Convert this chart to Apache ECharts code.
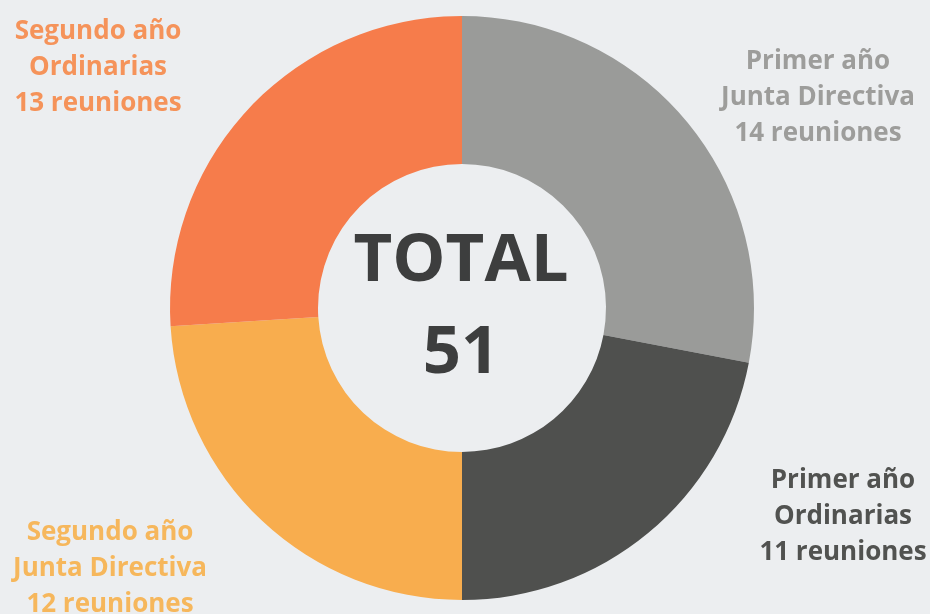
<!DOCTYPE html>
<html>
<head>
<meta charset="utf-8">
<script src="https://cdn.jsdelivr.net/npm/echarts@6/dist/echarts.min.js"></script>
<style>
  html, body { margin: 0; padding: 0; background: #eceef0; }
  #chart { width: 930px; height: 614px; }
</style>
</head>
<body>
<div id="chart"></div>
<script>
// datos de reuniones
const years = ['Primer año', 'Primer año', 'Segundo año', 'Segundo año'];
const kinds = ['Junta Directiva', 'Ordinarias', 'Junta Directiva', 'Ordinarias'];
const meetings = [14, 11, 12, 13];
const totalLabel = ['TOTAL', '51'];

const colors = ['#9a9b99', '#4f504e', '#f8ad4e', '#f67c4b'];
const labelColors = ['#9d9d9b', '#515250', '#f6b75c', '#f5935a'];
// posiciones de las etiquetas (centro del bloque)
const labelPos = [[818, 98], [843, 517], [110, 569], [98, 68]];

const chart = echarts.init(document.getElementById('chart'));

const labels = meetings.map((v, i) => ({
  type: 'text',
  x: labelPos[i][0],
  y: labelPos[i][1],
  style: {
    text: years[i] + '\n' + kinds[i] + '\n' + v + ' reuniones',
    fill: labelColors[i],
    font: 'bold 26px "Open Sans"',
    lineHeight: 36,
    align: 'center',
    verticalAlign: 'middle'
  }
}));

chart.setOption({
  backgroundColor: '#eceef0',
  animation: false,
  series: [
    {
      type: 'pie',
      center: [462, 308],
      radius: [144, 292],
      startAngle: 90,
      clockwise: true,
      label: { show: false },
      labelLine: { show: false },
      itemStyle: { borderWidth: 0 },
      data: meetings.map((v, i) => ({
        value: v,
        name: years[i] + ' ' + kinds[i],
        itemStyle: { color: colors[i] }
      }))
    }
  ],
  graphic: [
    ...labels,
    {
      type: 'text',
      x: 461,
      y: 262,
      style: {
        text: totalLabel[0],
        fill: '#3d3e3e',
        font: 'bold 67px "Open Sans"',
        align: 'center',
        verticalAlign: 'middle'
      }
    },
    {
      type: 'text',
      x: 461,
      y: 354,
      style: {
        text: totalLabel[1],
        fill: '#3d3e3e',
        font: 'bold 67px "Open Sans"',
        align: 'center',
        verticalAlign: 'middle'
      }
    }
  ]
});
</script>
</body>
</html>
